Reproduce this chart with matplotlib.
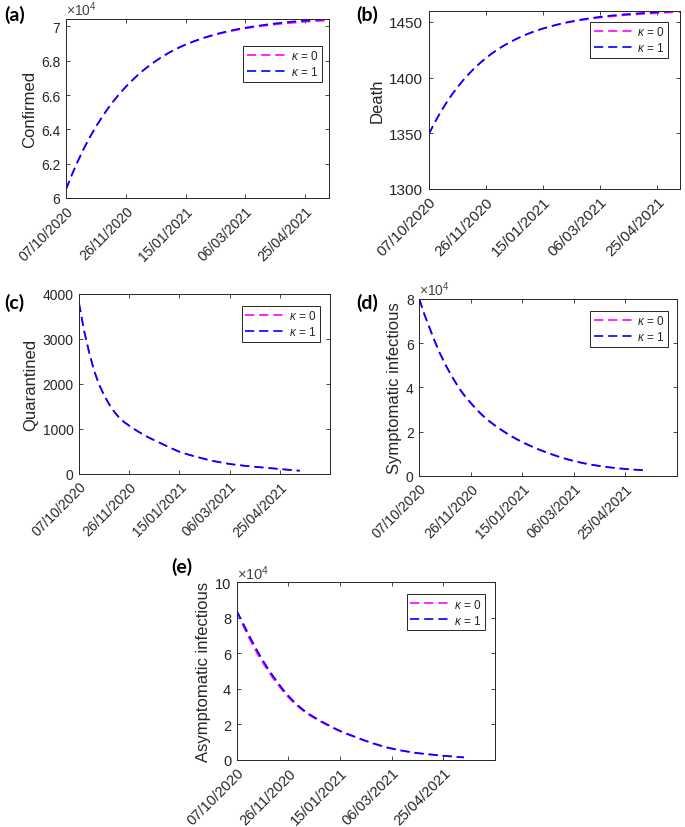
import numpy as np
import matplotlib
import matplotlib.pyplot as plt

matplotlib.use('agg')

plt.rcParams['font.family'] = ['Liberation Sans', 'DejaVu Sans']
plt.rcParams['mathtext.fontset'] = 'custom'
plt.rcParams['mathtext.rm'] = 'Liberation Sans'
plt.rcParams['mathtext.it'] = 'Liberation Sans:italic'
plt.rcParams['text.color'] = '#262626'

# days since 07/10/2020, read every 5 days
days = list(range(0, 225, 5))
tick_days = [0, 50, 100, 150, 200]
tick_labels = ['07/10/2020', '26/11/2020', '15/01/2021', '06/03/2021', '25/04/2021']

# Confirmed (x10^4)
confirmed_k1 = [6.050, 6.137, 6.216, 6.289, 6.355, 6.415, 6.470, 6.521, 6.567, 6.609,
                6.648, 6.683, 6.716, 6.746, 6.773, 6.798, 6.821, 6.842, 6.861, 6.878,
                6.894, 6.908, 6.921, 6.933, 6.944, 6.954, 6.963, 6.971, 6.979, 6.986,
                6.992, 6.998, 7.003, 7.008, 7.013, 7.017, 7.021, 7.025, 7.028, 7.031,
                7.034, 7.036, 7.039, 7.041, 7.043]
confirmed_k0 = [6.050, 6.137, 6.216, 6.289, 6.355, 6.415, 6.470, 6.521, 6.567, 6.609,
                6.648, 6.683, 6.716, 6.746, 6.773, 6.798, 6.821, 6.842, 6.861, 6.878,
                6.893, 6.907, 6.919, 6.931, 6.941, 6.951, 6.960, 6.968, 6.975, 6.982,
                6.988, 6.993, 6.998, 7.003, 7.007, 7.011, 7.015, 7.018, 7.021, 7.024,
                7.027, 7.029, 7.031, 7.033, 7.035]

# Death
death_k1 = [1349, 1359.1, 1368.3, 1376.6, 1384.2, 1391.1, 1397.4, 1403.1, 1408.4, 1413.1,
            1417.4, 1421.4, 1424.9, 1428.2, 1431.1, 1433.8, 1436.2, 1438.5, 1440.5, 1442.3,
            1444.0, 1445.5, 1446.9, 1448.2, 1449.4, 1450.4, 1451.4, 1452.3, 1453.1, 1453.8,
            1454.5, 1455.1, 1455.6, 1456.1, 1456.6, 1457.0, 1457.4, 1457.8, 1458.1, 1458.4,
            1458.8, 1459.1, 1459.4, 1459.7, 1460.0]
death_k0 = [1349, 1359.1, 1368.3, 1376.6, 1384.2, 1391.1, 1397.4, 1403.1, 1408.4, 1413.1,
            1417.4, 1421.4, 1424.9, 1428.2, 1431.1, 1433.8, 1436.2, 1438.5, 1440.5, 1442.3,
            1444.0, 1445.4, 1446.7, 1447.9, 1449.0, 1450.0, 1450.9, 1451.7, 1452.5, 1453.2,
            1453.8, 1454.4, 1454.9, 1455.3, 1455.8, 1456.2, 1456.5, 1456.9, 1457.2, 1457.5,
            1457.8, 1458.1, 1458.4, 1458.7, 1459.0]

# Quarantined
quarantined_k1 = [3800, 3190, 2714, 2300, 1990, 1750, 1550, 1385, 1250, 1150,
                  1071, 995, 925, 860, 800, 748, 695, 640, 588, 538,
                  490, 453, 420, 389, 360, 330, 302, 278, 257, 236,
                  217, 203, 190, 177, 165, 155, 145, 135, 125, 115,
                  105, 95, 86, 76, 67]
quarantined_k0 = [3800, 3185, 2705, 2290, 1980, 1740, 1540, 1377, 1243, 1143,
                  1065, 989, 920, 858, 795, 743, 691, 637, 584, 534,
                  486, 450, 417, 386, 357, 327, 300, 276, 255, 234,
                  215, 201, 188, 175, 163, 153, 143, 133, 123, 113,
                  103, 93, 84, 74, 65]

# Symptomatic infectious (x10^4)
symptomatic_k1 = [8.0, 7.3, 6.7, 6.1, 5.55, 5.07, 4.64, 4.25, 3.88, 3.57,
                  3.30, 3.04, 2.80, 2.59, 2.40, 2.23, 2.07, 1.92, 1.78, 1.65,
                  1.53, 1.42, 1.31, 1.21, 1.12, 1.03, 0.95, 0.87, 0.80, 0.73,
                  0.67, 0.615, 0.565, 0.52, 0.48, 0.445, 0.41, 0.38, 0.355, 0.33,
                  0.31, 0.29, 0.275, 0.26, 0.25]
symptomatic_k0 = [8.0, 7.28, 6.67, 6.07, 5.52, 5.04, 4.61, 4.22, 3.85, 3.54,
                  3.27, 3.01, 2.78, 2.57, 2.38, 2.21, 2.05, 1.9, 1.76, 1.63,
                  1.51, 1.4, 1.3, 1.2, 1.11, 1.02, 0.94, 0.86, 0.79, 0.72,
                  0.66, 0.605, 0.555, 0.51, 0.47, 0.435, 0.4, 0.37, 0.345, 0.32,
                  0.3, 0.28, 0.265, 0.25, 0.24]

# Asymptomatic infectious (x10^4)
asymptomatic_k1 = [8.4, 7.83, 7.25, 6.68, 6.14, 5.64, 5.17, 4.74, 4.34, 3.96,
                   3.62, 3.31, 3.04, 2.80, 2.59, 2.41, 2.24, 2.08, 1.93, 1.78,
                   1.64, 1.52, 1.41, 1.3, 1.19, 1.08, 0.98, 0.89, 0.8, 0.72,
                   0.65, 0.59, 0.53, 0.48, 0.43, 0.39, 0.36, 0.33, 0.3, 0.27,
                   0.24, 0.22, 0.19, 0.17, 0.15]
asymptomatic_k0 = [8.4, 7.72, 7.1, 6.52, 5.99, 5.5, 5.04, 4.62, 4.23, 3.86,
                   3.53, 3.23, 2.97, 2.74, 2.54, 2.36, 2.2, 2.04, 1.89, 1.75,
                   1.61, 1.49, 1.38, 1.27, 1.16, 1.06, 0.96, 0.87, 0.78, 0.7,
                   0.63, 0.57, 0.52, 0.47, 0.42, 0.38, 0.35, 0.32, 0.29, 0.26,
                   0.23, 0.21, 0.18, 0.16, 0.14]

W, H = 685, 828
fig = plt.figure(figsize=(W / 100, H / 100), dpi=100)


def px_axes(x0, y0, x1, y1):
    return fig.add_axes([x0 / W, (H - y1) / H, (x1 - x0) / W, (y1 - y0) / H])


def panel(box, k0, k1, ylabel, ylim, yticks, xmax, leg_anchor, letter, letter_xy,
          fs=10, sci=False):
    ax = px_axes(*box)
    ax.plot(days, k0, color=(1, 0, 1), lw=1.2, dashes=(5.5, 3), label=r'$\kappa$ = 0')
    ax.plot(days, k1, color=(0, 0, 1), lw=1.2, dashes=(5.5, 3), label=r'$\kappa$ = 1')
    ax.set_xlim(0, xmax)
    ax.set_ylim(*ylim)
    ax.set_yticks(yticks)
    ax.set_yticklabels([('%g' % v) for v in yticks])
    ax.set_xticks(tick_days)
    ax.set_xticklabels(tick_labels, rotation=45, ha='right', va='top',
                       rotation_mode='anchor')
    ax.tick_params(direction='in', length=3, width=0.6, top=True, right=True,
                   labelsize=fs, colors='#262626', pad=4)
    for s in ax.spines.values():
        s.set_color('#262626')
        s.set_linewidth(0.7)
    ax.set_ylabel(ylabel, fontsize=12, color='#262626', labelpad=3)
    if sci:
        ax.text(0.0, 1.004, r'$\times\mathregular{10^4}$', transform=ax.transAxes,
                ha='left', va='bottom', fontsize=fs, color='#444444')
    leg = ax.legend(loc='upper right', bbox_to_anchor=leg_anchor, borderaxespad=0,
                    fontsize=8.5, frameon=True, fancybox=False, framealpha=1,
                    edgecolor='#262626', handlelength=3.3, handletextpad=0.4,
                    borderpad=0.3, labelspacing=0.25)
    leg.get_frame().set_linewidth(0.7)
    fig.text(letter_xy[0] / W, 1 - letter_xy[1] / H, letter, fontsize=14,
             fontweight='bold', family='Lato', color='black', ha='left', va='center')
    return ax


panel((66, 20, 329, 199), confirmed_k0, confirmed_k1, 'Confirmed', (6, 7.043),
      [6, 6.2, 6.4, 6.6, 6.8, 7], 220, (0.972, 0.851), '(a)', (4, 15), fs=10, sci=True)
panel((428.7, 11.7, 680, 190), death_k0, death_k1, 'Death', (1300, 1460),
      [1300, 1350, 1400, 1450], 220, (0.953, 0.938), '(b)', (356, 15), fs=11)
panel((79, 295, 330, 474.7), quarantined_k0, quarantined_k1, 'Quarantined', (0, 4000),
      [0, 1000, 2000, 3000, 4000], 250, (0.96, 0.935), '(c)', (4, 303), fs=10)
panel((419.3, 300, 676.7, 476.7), symptomatic_k0, symptomatic_k1, 'Symptomatic infectious',
      (0, 8), [0, 2, 4, 6, 8], 250, (0.967, 0.934), '(d)', (356, 303), fs=10, sci=True)
panel((236.7, 583.3, 495, 761), asymptomatic_k0, asymptomatic_k1, 'Asymptomatic infectious',
      (0, 10), [0, 2, 4, 6, 8, 10], 250, (0.961, 0.934), '(e)', (171, 567), fs=10.5, sci=True)

fig.savefig('out.png', dpi=100)
